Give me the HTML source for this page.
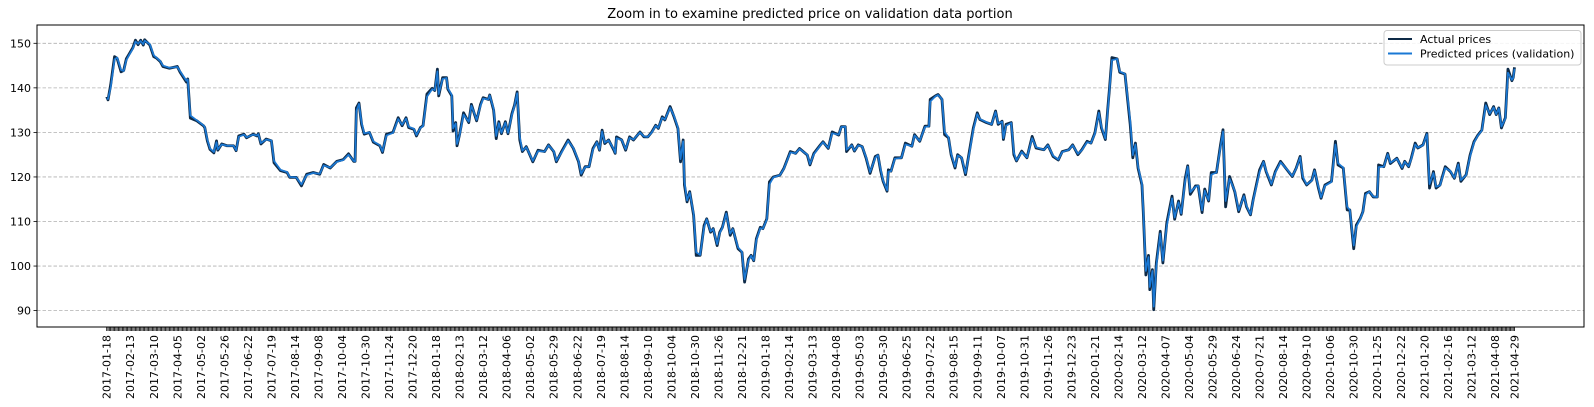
<!DOCTYPE html>
<html><head><meta charset="utf-8"><style>
html,body{margin:0;padding:0;background:#fff;}
svg{display:block;font-family:"DejaVu Sans","Liberation Sans",sans-serif;}
</style></head><body>
<svg id="chart" width="1594" height="407" viewBox="0 0 1594 407" xmlns="http://www.w3.org/2000/svg">
<text x="810" y="18" font-size="13" text-anchor="middle" fill="#000">Zoom in to examine predicted price on validation data portion</text>
<g id="grid"></g>
<g id="yaxis"></g>
<g id="xaxis"></g>
<g id="series"></g>
<rect x="37" y="25" width="1547" height="302" fill="none" stroke="#000" stroke-width="1"/>
<g>
<rect x="1384" y="30.5" width="197" height="34.5" rx="3" fill="#fff" fill-opacity="0.85" stroke="#ccc"/>
<line x1="1388" y1="39" x2="1412" y2="39" stroke="#0e2a47" stroke-width="2"/>
<text x="1420" y="43" font-size="11" fill="#000">Actual prices</text>
<line x1="1388" y1="53.5" x2="1412" y2="53.5" stroke="#1a78d4" stroke-width="2"/>
<text x="1420" y="57.5" font-size="11" fill="#000">Predicted prices (validation)</text>
</g>
</svg>
<script>
const yTicks = [90,100,110,120,130,140,150];
const xLabels = ["2017-01-18","2017-02-13","2017-03-10","2017-04-05","2017-05-02","2017-05-26","2017-06-22","2017-07-19","2017-08-14","2017-09-08","2017-10-04","2017-10-30","2017-11-24","2017-12-20","2018-01-18","2018-02-13","2018-03-12","2018-04-06","2018-05-02","2018-05-29","2018-06-22","2018-07-19","2018-08-14","2018-09-10","2018-10-04","2018-10-30","2018-11-26","2018-12-21","2019-01-18","2019-02-14","2019-03-13","2019-04-08","2019-05-03","2019-05-30","2019-06-25","2019-07-22","2019-08-15","2019-09-11","2019-10-07","2019-10-31","2019-11-26","2019-12-23","2020-01-21","2020-02-14","2020-03-12","2020-04-07","2020-05-04","2020-05-29","2020-06-24","2020-07-21","2020-08-14","2020-09-10","2020-10-06","2020-10-30","2020-11-25","2020-12-22","2021-01-20","2021-02-16","2021-03-12","2021-04-08","2021-04-29"];
const labelDays = [0,18,36,54,72,90,108,126,144,162,180,198,216,234,252,270,288,306,324,342,360,378,396,414,432,450,468,486,504,522,540,558,576,594,612,630,648,666,684,702,720,738,756,774,792,810,828,846,864,882,900,918,936,954,972,990,1008,1026,1044,1062,1077];
const totalDays = 1078;
const days = [0,1,3,6,8,11,13,15,17,20,22,24,26,28,29,33,36,38,41,43,48,54,56,61,62,64,69,74,75,77,79,82,84,85,88,92,97,99,101,105,107,112,115,116,118,122,126,128,133,138,140,145,149,153,158,163,166,171,176,181,185,189,190,191,193,195,197,201,204,209,211,214,219,223,226,229,231,235,237,240,242,245,249,251,253,254,257,260,261,264,265,267,268,270,273,277,279,281,283,286,288,292,293,296,298,300,302,305,307,310,312,314,316,318,321,326,330,335,338,342,344,348,353,357,361,363,366,369,372,375,377,379,381,384,388,389,390,394,397,400,403,408,411,414,417,420,422,425,427,431,434,437,439,441,442,444,446,449,451,454,457,459,462,464,467,469,471,474,477,479,483,486,488,491,493,495,497,500,502,505,507,510,515,518,520,523,527,530,536,538,541,546,548,552,555,560,562,565,566,570,572,575,578,581,584,588,590,592,594,597,598,600,603,608,611,616,618,622,626,629,630,634,636,639,641,644,646,649,651,654,657,660,663,666,668,673,677,680,682,685,686,688,692,694,696,700,704,708,711,717,720,724,728,731,736,739,743,746,750,753,756,759,761,764,766,767,769,773,775,779,783,785,787,789,792,793,795,797,798,800,801,803,806,808,811,815,817,820,822,825,827,829,833,835,838,840,843,845,849,852,854,856,859,863,866,870,872,875,877,882,885,887,891,894,898,903,907,910,913,915,918,922,924,927,929,932,937,940,942,946,949,951,954,956,959,961,963,966,969,972,973,977,980,982,987,991,993,996,998,1001,1003,1007,1010,1012,1015,1017,1020,1024,1028,1031,1034,1036,1040,1043,1046,1049,1052,1055,1058,1061,1063,1065,1067,1070,1072,1075,1076,1077];
const actualPrices = [138.0,137.3,140.6,147.0,146.6,143.6,143.9,146.5,147.5,149.0,150.7,149.7,150.7,149.6,150.8,149.6,147.0,146.7,145.9,144.8,144.4,144.8,143.6,141.3,142.0,133.2,132.6,131.5,131.1,128.1,126.2,125.4,128.1,126.0,127.4,127.0,127.0,125.9,129.2,129.6,128.8,129.6,129.2,129.7,127.4,128.5,128.1,123.2,121.4,121.0,119.9,119.9,118.0,120.6,121.0,120.6,122.8,122.0,123.5,123.9,125.2,123.5,123.5,135.5,136.6,131.8,129.6,130.0,127.8,127.0,125.5,129.6,130.0,133.3,131.5,133.3,131.1,130.7,129.2,131.1,131.5,138.6,139.9,139.4,144.2,138.2,142.3,142.3,139.7,138.2,130.3,132.2,127.0,129.6,134.4,132.2,136.3,134.4,132.6,136.3,137.8,137.4,138.4,135.0,128.6,132.4,129.7,132.4,129.7,134.2,136.1,139.1,128.3,125.7,126.8,123.4,126.0,125.7,127.2,125.7,123.4,125.7,128.3,126.4,123.4,120.4,122.3,122.3,126.4,127.9,126.0,130.5,127.5,128.3,126.0,125.3,129.0,128.3,126.0,129.0,128.3,130.1,129.0,129.0,130.1,131.6,130.9,133.5,132.8,135.8,133.5,130.9,123.4,128.3,118.2,114.4,116.7,111.4,102.4,102.4,109.1,110.6,107.6,108.4,104.6,107.6,108.7,112.1,106.9,108.4,103.9,103.1,96.4,101.6,102.4,101.2,106.1,108.7,108.4,110.6,118.9,120.0,120.4,121.9,123.4,125.7,125.3,126.4,124.9,122.7,125.3,127.2,127.9,126.4,130.1,129.4,131.3,131.3,125.7,127.2,125.8,127.2,126.8,124.2,120.8,124.6,124.9,121.5,119.0,116.8,121.6,121.3,124.3,124.3,127.6,126.9,129.5,128.0,131.4,131.4,137.4,138.2,138.5,137.4,129.5,128.8,125.0,122.0,125.0,124.3,120.5,125.8,131.0,134.4,132.9,132.2,131.8,134.8,131.8,132.5,128.4,131.8,132.2,125.0,123.6,125.8,124.3,129.1,126.5,126.1,127.2,124.6,123.8,125.7,126.1,127.2,125.0,126.1,128.0,127.6,129.9,134.8,131.0,128.4,135.9,139.3,146.8,146.5,143.5,143.1,131.8,124.3,127.6,122.0,118.2,112.2,98.0,102.4,94.7,99.2,90.2,100.7,107.8,100.7,109.7,115.7,110.5,114.6,111.6,119.5,122.5,116.1,118.0,118.0,112.0,117.3,114.6,121.0,121.0,127.0,130.6,113.3,120.1,116.7,112.2,116.0,113.3,111.5,114.8,121.6,123.5,121.2,118.2,121.2,123.5,121.6,120.1,122.0,124.6,119.7,118.2,119.3,121.6,117.5,115.2,118.2,119.0,128.0,122.7,122.0,112.6,112.6,103.9,109.2,110.7,112.2,116.3,116.7,115.5,115.5,122.7,122.3,125.3,123.0,124.2,121.9,123.5,122.3,124.2,127.6,126.5,127.2,129.8,117.5,121.2,117.5,118.2,122.3,121.2,119.7,123.1,119.0,120.5,124.9,127.9,129.4,130.5,136.6,134.0,135.8,134.0,135.5,131.0,133.3,144.2,141.6,142.3,144.6];
const predictedPrices = [137.6,137.5,140.0,146.4,146.8,144.0,143.8,146.2,147.3,148.8,150.4,149.9,150.5,149.8,150.6,149.8,147.3,146.8,146.0,145.0,144.5,144.7,143.8,141.6,141.9,133.8,132.7,131.6,131.2,128.4,126.4,125.6,127.8,126.2,127.3,127.0,127.0,126.0,129.0,129.5,128.9,129.5,129.3,129.6,127.6,128.4,128.2,123.6,121.6,121.1,120.0,119.9,118.3,120.4,120.9,120.7,122.6,122.1,123.4,123.8,125.0,123.6,123.5,134.8,136.4,132.2,129.8,130.0,128.0,127.1,125.7,129.3,129.9,133.0,131.7,133.1,131.3,130.8,129.4,131.0,131.4,138.0,139.7,139.5,143.7,138.6,142.0,142.2,139.9,138.4,130.9,132.0,127.4,129.4,134.0,132.4,136.0,134.5,132.8,136.0,137.6,137.4,138.3,135.3,129.2,132.1,129.9,132.2,129.9,133.9,136.0,138.8,129.1,125.9,126.7,123.6,125.8,125.7,127.1,125.8,123.6,125.5,128.1,126.5,123.6,120.7,122.2,122.3,126.1,127.8,126.1,130.2,127.7,128.2,126.2,125.4,128.7,128.3,126.2,128.8,128.4,130.0,129.1,129.0,130.0,131.5,131.0,133.3,132.9,135.5,133.7,131.1,124.0,128.0,118.9,114.7,116.5,111.8,103.1,102.5,108.6,110.5,107.8,108.3,104.9,107.4,108.6,111.8,107.3,108.3,104.2,103.2,97.0,101.3,102.3,101.3,105.8,108.5,108.4,110.4,118.3,119.9,120.4,121.8,123.3,125.5,125.3,126.3,125.0,122.9,125.1,127.1,127.8,126.5,129.8,129.5,131.2,131.3,126.1,127.1,125.9,127.1,126.8,124.4,121.1,124.3,124.9,121.8,119.2,117.0,121.2,121.3,124.1,124.3,127.3,126.9,129.3,128.1,131.2,131.4,136.9,138.1,138.4,137.5,130.1,128.9,125.3,122.3,124.8,124.4,120.8,125.4,130.6,134.1,133.0,132.3,131.8,134.6,132.0,132.4,128.7,131.5,132.1,125.5,123.7,125.6,124.4,128.7,126.7,126.1,127.1,124.8,123.9,125.6,126.1,127.1,125.2,126.0,127.8,127.6,129.7,134.4,131.3,128.6,135.4,139.0,146.2,146.5,143.7,143.1,132.7,124.9,127.3,122.4,118.5,112.7,98.9,102.0,95.3,98.9,90.9,100.0,107.3,101.2,109.0,115.2,110.9,114.3,111.8,118.9,122.3,116.6,117.8,118.0,112.5,116.9,114.8,120.5,121.0,126.6,130.2,114.6,119.6,116.9,112.5,115.7,113.5,111.6,114.6,121.1,123.4,121.4,118.4,121.0,123.3,121.7,120.2,121.9,124.4,120.1,118.3,119.2,121.4,117.8,115.4,118.0,118.9,127.3,123.1,122.1,113.3,112.6,104.6,108.8,110.6,112.1,116.0,116.7,115.6,115.5,122.2,122.3,125.1,123.2,124.1,122.1,123.4,122.4,124.0,127.3,126.6,127.1,129.6,118.4,120.9,117.8,118.1,122.0,121.3,119.8,122.8,119.3,120.4,124.6,127.7,129.3,130.4,136.1,134.2,135.6,134.1,135.4,131.3,133.1,143.4,141.8,142.2,144.3];

const NS = "http://www.w3.org/2000/svg";
const PX0 = 106.7, PX1 = 1514.5;
function xScale(d){ return PX0 + d * (PX1 - PX0) / (totalDays - 1); }
function yScale(v){ return 43.3 + (150 - v) * 4.455; }
function mk(tag, attrs, parent){ const e = document.createElementNS(NS, tag); for (const k in attrs) e.setAttribute(k, attrs[k]); parent.appendChild(e); return e; }

const grid = document.getElementById('grid');
const yaxis = document.getElementById('yaxis');
yTicks.forEach(v => {
  const y = yScale(v);
  const gl = mk('line', {x1:37, x2:1584, y1:y, y2:y, stroke:'#b0b0b0', 'stroke-width':0.8, 'stroke-dasharray':'3.5,2'}, grid);
  
  
  const tk = mk('line', {x1:33.5, x2:37, y1:y, y2:y, stroke:'#000', 'stroke-width':0.8}, yaxis);
  
  
  const t = mk('text', {x:31, y:y+4, 'font-size':11, 'text-anchor':'end', fill:'#000'}, yaxis);
  t.textContent = v;
  
  
});

const xaxis = document.getElementById('xaxis');
let tickD = '';
for (let d = 0; d < totalDays; d++) { const x = xScale(d).toFixed(2); tickD += 'M' + x + ' 327V331'; }
const ticks = mk('path', {d:tickD, stroke:'#000', 'stroke-width':0.8, fill:'none'}, xaxis);


xLabels.forEach((lab, i) => {
  const x = xScale(labelDays[i]) + 4;
  const t = mk('text', {x:x, y:335, 'font-size':11, 'text-anchor':'end', fill:'#000', transform:'rotate(-90 ' + x + ' 335)'}, xaxis);
  t.textContent = lab;
  
  
});

const series = document.getElementById('series');
function linePath(vals){ return vals.map((v, i) => (i ? 'L' : 'M') + xScale(days[i]).toFixed(2) + ' ' + yScale(v).toFixed(2)).join(''); }
const actual = mk('path', {d:linePath(actualPrices), stroke:'#0e2a47', 'stroke-width':2.8, fill:'none', 'stroke-linejoin':'round'}, series);


const pred = mk('path', {d:linePath(predictedPrices), stroke:'#1a78d4', 'stroke-width':1.7, fill:'none', 'stroke-linejoin':'round'}, series);


</script>
</body></html>
